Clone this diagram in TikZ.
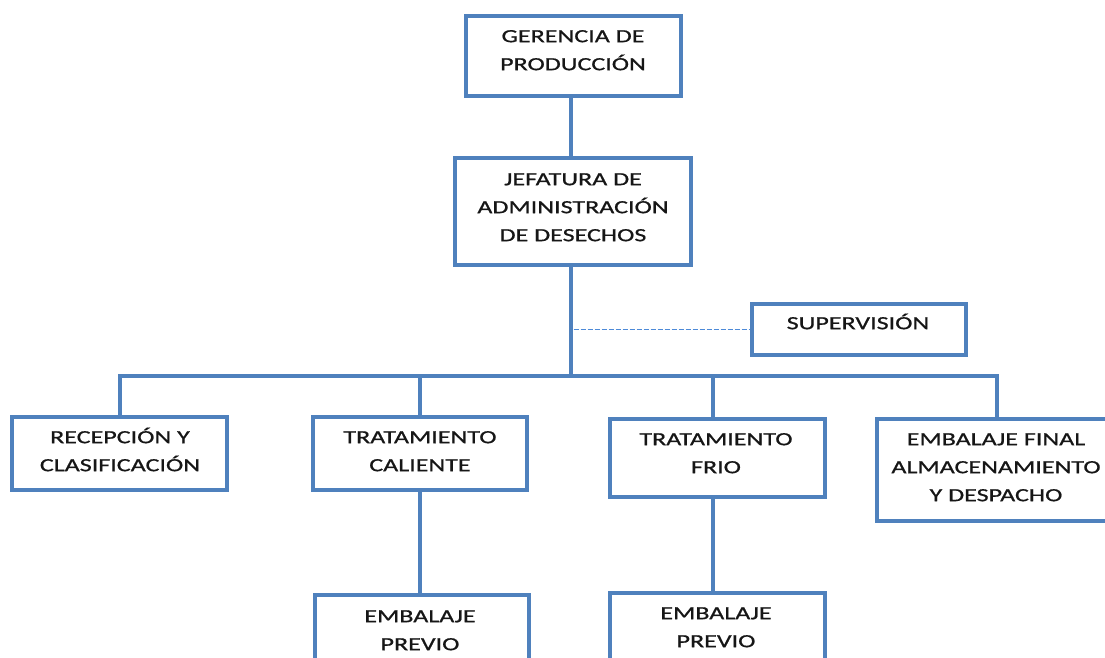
\documentclass[tikz,border=0pt]{standalone}
\usepackage{fontspec}
\setmainfont{Carlito}[FakeStretch=1.4,FakeBold=0.8]
\usetikzlibrary{calc}
\definecolor{ob}{HTML}{4F81BD}
\definecolor{dl}{HTML}{4D8AD8}
\definecolor{txtc}{HTML}{161616}
\begin{document}
\begin{tikzpicture}[x=1pt,y=-1pt,
  box/.style={draw=ob, line width=4pt, rectangle, inner sep=0pt},
  txt/.style={anchor=north, align=center, inner sep=0pt, text=txtc,
              font=\fontsize{18.6}{28}\selectfont},
  conn/.style={draw=ob, line width=4pt, line cap=rect, line join=miter},
  dashline/.style={draw=dl, line width=1.5pt, dash pattern=on 5pt off 2pt}]
\fill[white] (0,0) rectangle (1105,658);
\useasboundingbox (0,0) rectangle (1105,658);

% boxes
\node[box, minimum width=215pt, minimum height=80pt]  (g)  at (573.5,56)   {};
\node[box, minimum width=236pt, minimum height=107pt] (j)  at (573,211.5)  {};
\node[box, minimum width=214pt, minimum height=51pt]  (s)  at (859,329.5)  {};
\node[box, minimum width=215pt, minimum height=73pt]  (rc) at (119.5,453.5){};
\node[box, minimum width=214pt, minimum height=73pt]  (tc) at (420,453.5)  {};
\node[box, minimum width=215pt, minimum height=78pt]  (tf) at (717.5,458)  {};
\node[box, minimum width=239pt, minimum height=102pt] (ef) at (996.5,470)  {};
\node[box, minimum width=214pt, minimum height=95pt]  (pc) at (422,642.5)  {};
\node[box, minimum width=215pt, minimum height=97pt]  (pf) at (717.5,641.5){};

% texts
\node[txt] (gt)  at (573,26)  {\rule{0pt}{16pt}GERENCIA DE\\PRODUCCIÓN};
\node[txt] (jt)  at (573,169) {\rule{0pt}{16pt}JEFATURA DE\\ADMINISTRACIÓN\\DE DESECHOS};
\node[txt] (st)  at (858,313) {\rule{0pt}{16pt}SUPERVISIÓN};
\node[txt] (rct) at (120,427) {\rule{0pt}{16pt}RECEPCIÓN Y\\CLASIFICACIÓN};
\node[txt] (tct) at (420,427) {\rule{0pt}{16pt}TRATAMIENTO\\CALIENTE};
\node[txt] (tft) at (716,429) {\rule{0pt}{16pt}TRATAMIENTO\\FRIO};
\node[txt] (eft) at (996,429) {\rule{0pt}{16pt}EMBALAJE FINAL\\ALMACENAMIENTO\\Y DESPACHO};
\node[txt] (pct) at (420,606) {\rule{0pt}{16pt}EMBALAJE\\PREVIO};
\node[txt] (pft) at (716,603) {\rule{0pt}{16pt}EMBALAJE\\PREVIO};

% connectors
\coordinate (bus) at (571,376);
\coordinate (gdrop) at ($(g.south)+(-2.5,0)$);
\coordinate (tfdrop) at ($(tf.north)+(-4.5,0)$);
\draw[conn] (gdrop) -- (gdrop |- j.north);
\draw[conn] (bus |- j.south) -- (bus);
\draw[conn] (rc.north) -- (rc.north |- bus) -- (ef.north |- bus) -- (ef.north);
\draw[conn] (tc.north) -- (tc.north |- bus);
\draw[conn] (tfdrop) -- (tfdrop |- bus);
\draw[conn] (tc.south) -- (tc.south |- pc.north);
\draw[conn] (tfdrop |- tf.south) -- (tfdrop |- pf.north);
\draw[dashline] ($(bus |- s.west)+(2.5,0)$) -- (s.west);
\end{tikzpicture}
\end{document}
